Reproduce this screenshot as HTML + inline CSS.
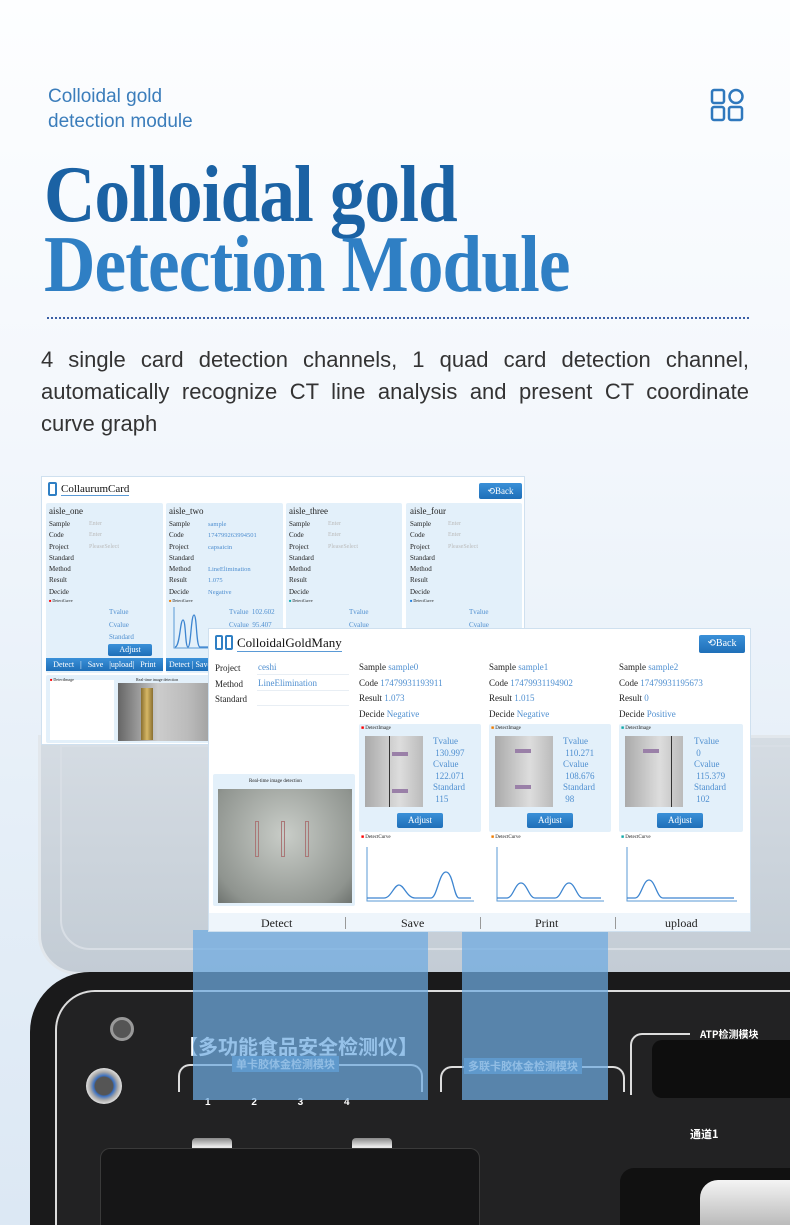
<!DOCTYPE html>
<html style="width:790px;height:1225px;overflow:hidden"><head><meta charset="utf-8">
<style>
*{margin:0;padding:0;box-sizing:border-box}
body{width:790px;height:1225px;overflow:hidden;position:relative;font-family:"Liberation Sans",sans-serif;background:linear-gradient(#fdfeff 0%,#f3f7fc 35%,#e6eff8 65%,#dce8f4 100%)}
.a{position:absolute}
.small{left:48px;top:84px;color:#3b7dbb;font-size:19px;line-height:25px}
.title{left:44px;top:160px;font-family:"Liberation Serif",serif;font-weight:bold;font-size:80px;line-height:70px;transform:scaleX(0.89);transform-origin:left top;white-space:nowrap;letter-spacing:-1px}
.para{left:41px;top:344px;width:708px;color:#333;font-size:22px;line-height:32px}
.para div{text-align:justify;text-align-last:justify;height:32px}
.scr{font-family:"Liberation Serif",serif;background:#fff;overflow:hidden}
.t7{font-size:7px;color:#222}
.bl{color:#4f8fd0}
.gr{color:#bbb}
.pan{background:#e3f0fa;border-radius:2px}
.btn{background:linear-gradient(#3a90d8,#1f6fb8);color:#fff;text-align:center;border-radius:2px}
</style></head><body>

<div class="a small">Colloidal gold<br>detection module</div>
<svg class="a" style="left:710px;top:88px" width="36" height="34" viewBox="0 0 36 34" fill="none" stroke="#2f78bd" stroke-width="2.5"><rect x="2" y="2" width="12" height="13" rx="2"/><circle cx="26" cy="8.5" r="6.5"/><rect x="2" y="19" width="12" height="13" rx="2"/><rect x="19" y="19" width="13" height="13" rx="2"/></svg>
<div class="a title"><span style="color:#1b62a4">Colloidal gold</span><br><span style="color:#2f7fc4">Detection Module</span></div>
<div class="a" style="left:47px;top:317px;width:702px;border-top:2px dotted #3a5fa5"></div>
<div class="a para"><div>4 single card detection channels, 1 quad card detection channel,</div><div>automatically recognize CT line analysis and present CT coordinate</div><div style="text-align-last:left">curve graph</div></div>

<!-- case lid -->
<div class="a" style="left:38px;top:735px;width:780px;height:240px;background:linear-gradient(#d5dce3,#c3ccd5);border-radius:0 0 0 40px;border:3px solid #e2e7ec"></div>
<div class="a" style="left:60px;top:745px;width:740px;height:205px;border:2px solid #d8dee5;border-radius:0 0 0 30px"></div>
<!-- black case -->
<div class="a" style="left:30px;top:972px;width:760px;height:253px;background:#1a1a1b;border-radius:60px 0 0 0"></div>
<div class="a" style="left:55px;top:990px;width:735px;height:235px;border-left:2px solid #ddd;border-top:2px solid #ddd;border-radius:40px 0 0 0;background:#222223"></div>
<div class="a" style="left:178px;top:1031px;color:#fff;font-family:'Noto Sans CJK SC',sans-serif;font-size:20px;font-weight:bold">【多功能食品安全检测仪】</div>
<div class="a" style="left:178px;top:1064px;width:245px;height:28px;border:2px solid #ddd;border-bottom:none;border-radius:12px 12px 0 0"></div>
<div class="a" style="left:232px;top:1056px;color:#eee;font-family:'Noto Sans CJK SC',sans-serif;font-size:11px;font-weight:bold;background:#3a6d98;padding:0 4px">单卡胶体金检测模块</div>
<div class="a" style="left:440px;top:1066px;width:185px;height:26px;border:2px solid #ddd;border-bottom:none;border-radius:12px 12px 0 0"></div>
<div class="a" style="left:464px;top:1058px;color:#eee;font-family:'Noto Sans CJK SC',sans-serif;font-size:11px;font-weight:bold;background:#3a6d98;padding:0 4px">多联卡胶体金检测模块</div>
<div class="a" style="left:630px;top:1033px;width:60px;height:62px;border:2px solid #ddd;border-right:none;border-bottom:none;border-radius:12px 0 0 0"></div>
<div class="a" style="left:700px;top:1026px;color:#fff;font-family:'Noto Sans CJK SC',sans-serif;font-size:10px;font-weight:bold">ATP检测模块</div>
<div class="a" style="left:652px;top:1040px;width:150px;height:58px;background:#0e0e0e;border-radius:10px"></div>
<div class="a" style="left:690px;top:1126px;color:#fff;font-family:'Noto Sans CJK SC',sans-serif;font-size:11px;font-weight:bold">通道1</div>
<div class="a" style="left:205px;top:1097px;color:#fff;font-size:10px;font-weight:bold;word-spacing:38px">1 2 3 4</div>
<div class="a" style="left:110px;top:1017px;width:24px;height:24px;border-radius:50%;background:#555;border:3px solid #999"></div>
<div class="a" style="left:86px;top:1068px;width:36px;height:36px;border-radius:50%;background:radial-gradient(#555 35%,#3a6fc0 40%,#aaa 55%,#ddd 70%)"></div>
<div class="a" style="left:192px;top:1138px;width:40px;height:18px;background:linear-gradient(#888,#eee,#777);border-radius:4px"></div>
<div class="a" style="left:352px;top:1138px;width:40px;height:18px;background:linear-gradient(#888,#eee,#777);border-radius:4px"></div>
<div class="a" style="left:100px;top:1148px;width:380px;height:77px;background:#161617;border:1px solid #3a3a3a;border-bottom:none;border-radius:10px 10px 0 0"></div>
<div class="a" style="left:620px;top:1168px;width:170px;height:57px;background:#111;border-radius:14px 0 0 0"></div>
<div class="a" style="left:700px;top:1180px;width:90px;height:45px;background:linear-gradient(#f4f4f4,#bbb);border-radius:18px 0 0 0"></div>
<!-- blue overlays -->
<div class="a" style="left:193px;top:930px;width:235px;height:170px;background:rgba(110,170,225,0.72)"></div>
<div class="a" style="left:462px;top:930px;width:146px;height:170px;background:rgba(110,170,225,0.72)"></div>

<!-- screen 1 -->
<div class="a scr" style="left:41px;top:476px;width:484px;height:269px;border:1px solid #cfe0ef">
 <div class="a" style="left:6px;top:5px;width:9px;height:14px;border:2px solid #2f7fc4;border-radius:2px"></div>
 <div class="a" style="left:19px;top:6px;font-size:11px;color:#111;border-bottom:1px solid #5a9ad6">CollaurumCard</div>
 <div class="a btn" style="left:437px;top:6px;width:43px;height:16px;font-size:9px;line-height:16px">⟲Back</div>
 <div class="a pan" style="left:4px;top:26px;width:117px;height:170px"></div>
 <div class="a pan" style="left:124px;top:26px;width:117px;height:170px"></div>
 <div class="a pan" style="left:244px;top:26px;width:116px;height:170px"></div>
 <div class="a pan" style="left:364px;top:26px;width:116px;height:170px"></div>
 <div class="a t7" style="left:7px;top:29px;font-size:9px">aisle_one</div>
 <div class="a t7" style="left:127px;top:29px;font-size:9px">aisle_two</div>
 <div class="a t7" style="left:247px;top:29px;font-size:9px">aisle_three</div>
 <div class="a t7" style="left:368px;top:29px;font-size:9px">aisle_four</div>
 <div class="a t7" style="left:7px;top:42px;line-height:11.3px">Sample<br>Code<br>Project<br>Standard<br>Method<br>Result<br>Decide</div>
 <div class="a t7" style="left:127px;top:42px;line-height:11.3px">Sample<br>Code<br>Project<br>Standard<br>Method<br>Result<br>Decide</div>
 <div class="a t7" style="left:247px;top:42px;line-height:11.3px">Sample<br>Code<br>Project<br>Standard<br>Method<br>Result<br>Decide</div>
 <div class="a t7" style="left:368px;top:42px;line-height:11.3px">Sample<br>Code<br>Project<br>Standard<br>Method<br>Result<br>Decide</div>
 <div class="a t7 gr" style="left:47px;top:42px;line-height:11.3px;font-size:6px">Enter<br>Enter<br>PleaseSelect</div>
 <div class="a t7 bl" style="left:166px;top:42px;line-height:11.3px;font-size:6.5px">sample<br>174799263994501<br>capsaicin<br><br>LineElimination<br>1.075<br>Negative</div>
 <div class="a t7 gr" style="left:286px;top:42px;line-height:11.3px;font-size:6px">Enter<br>Enter<br>PleaseSelect</div>
 <div class="a t7 gr" style="left:406px;top:42px;line-height:11.3px;font-size:6px">Enter<br>Enter<br>PleaseSelect</div>
 <div class="a t7" style="left:7px;top:121px;font-size:4px"><span style="color:red">■</span> DetectCurve</div>
 <div class="a t7" style="left:127px;top:121px;font-size:4px"><span style="color:#f07c00">■</span> DetectCurve</div>
 <div class="a t7" style="left:247px;top:121px;font-size:4px"><span style="color:#1aa">■</span> DetectCurve</div>
 <div class="a t7" style="left:368px;top:121px;font-size:4px"><span style="color:#2280e0">■</span> DetectCurve</div>
 <div class="a t7 bl" style="left:67px;top:129px;line-height:12.5px">Tvalue<br>Cvalue<br>Standard</div>
 <div class="a t7 bl" style="left:187px;top:129px;line-height:12.5px">Tvalue &nbsp;102.602<br>Cvalue &nbsp;95.407</div>
 <div class="a t7 bl" style="left:307px;top:129px;line-height:12.5px">Tvalue<br>Cvalue</div>
 <div class="a t7 bl" style="left:427px;top:129px;line-height:12.5px">Tvalue<br>Cvalue</div>
 <svg class="a" style="left:130px;top:128px" width="40" height="48"><path d="M2 2V43H40" stroke="#5a9ad6" fill="none"/><path d="M3 42C8 42 8 15 11 15S13 42 16 42 19 10 22 10 24 42 28 42H40" stroke="#3d85d0" fill="none" stroke-width="1.3"/></svg>
 <div class="a btn" style="left:66px;top:167px;width:44px;height:12px;font-size:8px;line-height:12px">Adjust</div>
 <div class="a btn" style="left:4px;top:181px;width:117px;height:13px;font-size:8px;line-height:13px;border-radius:0;word-spacing:4px">Detect | Save |upload| Print</div>
 <div class="a btn" style="left:124px;top:181px;width:117px;height:13px;font-size:8px;line-height:13px;border-radius:0;text-align:left;padding-left:3px">Detect | Save</div>
 <div class="a pan" style="left:4px;top:198px;width:476px;height:68px"></div>
 <div class="a" style="left:8px;top:203px;width:64px;height:60px;background:#fff"></div>
 <div class="a t7" style="left:8px;top:200px;font-size:4px"><span style="color:red">■</span> DetectImage</div>
 <div class="a t7" style="left:94px;top:200px;font-size:4px">Real-time image detection</div>
 <div class="a" style="left:76px;top:206px;width:100px;height:58px;background:linear-gradient(90deg,#666,#ccc 40%,#bbb 70%,#999)"></div>
 <div class="a" style="left:99px;top:211px;width:12px;height:52px;background:linear-gradient(90deg,#8a6f2f,#d6b766,#8a6f2f)"></div>
</div>

<!-- screen 2 -->
<div class="a scr" style="left:208px;top:628px;width:543px;height:304px;border:1px solid #cfe0ef">
 <div class="a" style="left:6px;top:6px;width:8px;height:15px;border:2px solid #2f7fc4;border-radius:2px"></div>
 <div class="a" style="left:16px;top:6px;width:8px;height:15px;border:2px solid #2f7fc4;border-radius:2px"></div>
 <div class="a" style="left:28px;top:6px;font-size:13px;color:#111;border-bottom:1px solid #5a9ad6">ColloidalGoldMany</div>
 <div class="a btn" style="left:490px;top:6px;width:46px;height:18px;font-size:10px;line-height:18px">⟲Back</div>
 <div class="a" style="left:6px;top:32px;font-size:9px;line-height:15.5px;color:#222">Project<br>Method<br>Standard</div>
 <div class="a bl" style="left:49px;top:31px;font-size:9px;line-height:15.5px">ceshi<br>LineElimination</div>
 <div class="a" style="left:48px;top:45px;width:92px;border-top:1px solid #e8eef4"></div>
 <div class="a" style="left:48px;top:61px;width:92px;border-top:1px solid #e8eef4"></div>
 <div class="a" style="left:48px;top:76px;width:92px;border-top:1px solid #e8eef4"></div>

 <div class="a" style="left:150px;top:31px;font-size:9px;line-height:15.5px;color:#222">Sample <span class="bl">sample0</span><br>Code <span class="bl">17479931193911</span><br>Result <span class="bl">1.073</span><br>Decide <span class="bl">Negative</span></div>
 <div class="a" style="left:280px;top:31px;font-size:9px;line-height:15.5px;color:#222">Sample <span class="bl">sample1</span><br>Code <span class="bl">17479931194902</span><br>Result <span class="bl">1.015</span><br>Decide <span class="bl">Negative</span></div>
 <div class="a" style="left:410px;top:31px;font-size:9px;line-height:15.5px;color:#222">Sample <span class="bl">sample2</span><br>Code <span class="bl">17479931195673</span><br>Result <span class="bl">0</span><br>Decide <span class="bl">Positive</span></div>

 <div class="a pan" style="left:150px;top:95px;width:122px;height:108px"></div>
 <div class="a pan" style="left:280px;top:95px;width:122px;height:108px"></div>
 <div class="a pan" style="left:410px;top:95px;width:124px;height:108px"></div>
 <div class="a t7" style="left:152px;top:97px;font-size:5px"><span style="color:red">■</span> DetectImage</div>
 <div class="a t7" style="left:282px;top:97px;font-size:5px"><span style="color:#f07c00">■</span> DetectImage</div>
 <div class="a t7" style="left:412px;top:97px;font-size:5px"><span style="color:#1aa">■</span> DetectImage</div>
 <div class="a" style="left:156px;top:107px;width:58px;height:71px;background:linear-gradient(90deg,#aaa,#ccc 40%,#ddd 60%,#bbb)"></div>
 <div class="a" style="left:286px;top:107px;width:58px;height:71px;background:linear-gradient(90deg,#aaa,#ccc 40%,#ddd 60%,#bbb)"></div>
 <div class="a" style="left:416px;top:107px;width:58px;height:71px;background:linear-gradient(90deg,#aaa,#ccc 40%,#ddd 60%,#bbb)"></div>
 <div class="a" style="left:180px;top:107px;width:1px;height:71px;background:#333"></div>
 <div class="a" style="left:183px;top:123px;width:16px;height:4px;background:#9a80a8"></div>
 <div class="a" style="left:183px;top:160px;width:16px;height:4px;background:#9a80a8"></div>
 <div class="a" style="left:306px;top:120px;width:16px;height:4px;background:#9a80a8"></div>
 <div class="a" style="left:306px;top:156px;width:16px;height:4px;background:#9a80a8"></div>
 <div class="a" style="left:462px;top:107px;width:1px;height:71px;background:#333"></div>
 <div class="a" style="left:434px;top:120px;width:16px;height:4px;background:#9a80a8"></div>
 <div class="a bl" style="left:224px;top:107px;font-size:9px;line-height:11.5px">Tvalue<br>&nbsp;130.997<br>Cvalue<br>&nbsp;122.071<br>Standard<br>&nbsp;115</div>
 <div class="a bl" style="left:354px;top:107px;font-size:9px;line-height:11.5px">Tvalue<br>&nbsp;110.271<br>Cvalue<br>&nbsp;108.676<br>Standard<br>&nbsp;98</div>
 <div class="a bl" style="left:485px;top:107px;font-size:9px;line-height:11.5px">Tvalue<br>&nbsp;0<br>Cvalue<br>&nbsp;115.379<br>Standard<br>&nbsp;102</div>
 <div class="a btn" style="left:188px;top:184px;width:46px;height:15px;font-size:9px;line-height:15px">Adjust</div>
 <div class="a btn" style="left:318px;top:184px;width:46px;height:15px;font-size:9px;line-height:15px">Adjust</div>
 <div class="a btn" style="left:448px;top:184px;width:46px;height:15px;font-size:9px;line-height:15px">Adjust</div>
 <div class="a t7" style="left:152px;top:206px;font-size:5px"><span style="color:red">■</span> DetectCurve</div>
 <div class="a t7" style="left:282px;top:206px;font-size:5px"><span style="color:#f07c00">■</span> DetectCurve</div>
 <div class="a t7" style="left:412px;top:206px;font-size:5px"><span style="color:#1aa">■</span> DetectCurve</div>
 <svg class="a" style="left:150px;top:210px" width="390" height="70" fill="none">
  <g stroke="#5a9ad6"><path d="M8 8V62H115M138 8V62H245M268 8V62H378"/></g>
  <g stroke="#3d85d0" stroke-width="1.3">
   <path d="M8 59H25C32 59 35 46 40 46S48 59 56 59H72C78 59 80 33 87 33S95 59 100 59H112"/>
   <path d="M138 59H148C154 59 156 44 162 44S170 59 176 59H196C202 59 204 44 210 44S218 59 224 59H242"/>
   <path d="M268 59H276C282 59 284 41 290 41S298 59 304 59H375"/>
  </g></svg>
 <div class="a pan" style="left:4px;top:145px;width:142px;height:132px"></div>
 <div class="a t7" style="left:40px;top:150px;font-size:5px">Real-time image detection</div>
 <div class="a" style="left:9px;top:160px;width:134px;height:114px;background:radial-gradient(ellipse at 50% 40%,#c9cdc8,#8f948f 80%,#6e736f)"></div>
 <div class="a" style="left:46px;top:192px;width:4px;height:36px;border:1px solid #a77"></div>
 <div class="a" style="left:72px;top:192px;width:4px;height:36px;border:1px solid #a77"></div>
 <div class="a" style="left:96px;top:192px;width:4px;height:36px;border:1px solid #a77"></div>
 <div class="a" style="left:0;top:284px;width:543px;height:20px;background:#eef5fb;font-size:12px;color:#222;line-height:20px">
  <span class="a" style="left:52px">Detect</span><span class="a" style="left:192px">Save</span><span class="a" style="left:326px">Print</span><span class="a" style="left:456px">upload</span>
  <span class="a" style="left:136px;top:4px;width:1px;height:12px;background:#999"></span><span class="a" style="left:271px;top:4px;width:1px;height:12px;background:#999"></span><span class="a" style="left:406px;top:4px;width:1px;height:12px;background:#999"></span>
 </div>
</div>
</body></html>
